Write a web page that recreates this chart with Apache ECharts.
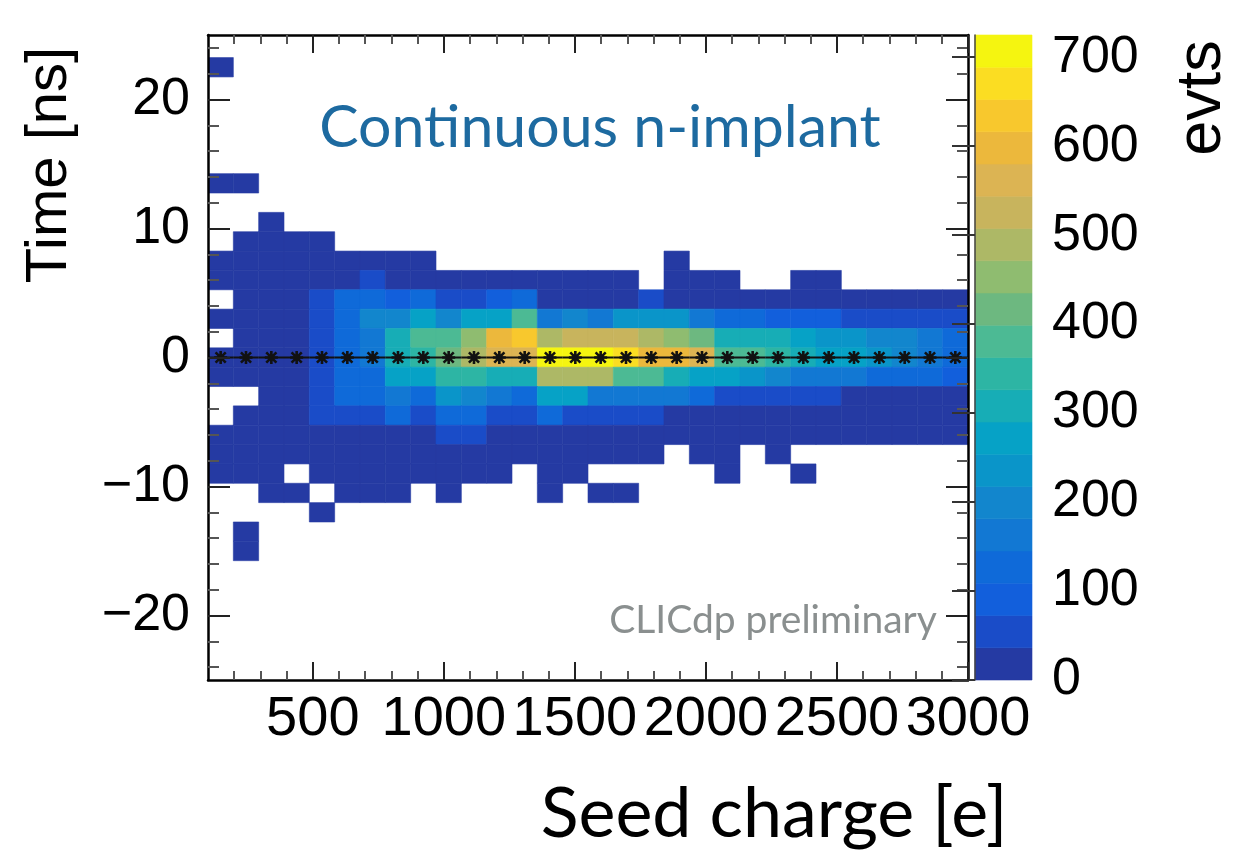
<!DOCTYPE html>
<html>
<head>
<meta charset="utf-8">
<script src="https://cdn.jsdelivr.net/npm/echarts@6/dist/echarts.min.js"></script>
<style>
html,body{margin:0;padding:0;background:#fff;}
#chart{width:1234px;height:850px;}
</style>
</head>
<body>
<div id="chart"></div>
<script>
// ---- binning ----
const chargeMin = 100, chargeMax = 3000, nChargeBins = 30;
const timeBinWidth = 1.5;
const timeCenters = [22.5, 13.5, 10.5, 9, 7.5, 6, 4.5, 3, 1.5, 0, -1.5, -3, -4.5, -6, -7.5, -9, -10.5, -12, -13.5, -15];

// ---- counts (one row per time bin, 30 seed-charge bins each) ----
const counts = [
  [3,0,0,0,0,0,0,0,0,0,0,0,0,0,0,0,0,0,0,0,0,0,0,0,0,0,0,0,0,0],
  [2,3,0,0,0,0,0,0,0,0,0,0,0,0,0,0,0,0,0,0,0,0,0,0,0,0,0,0,0,0],
  [0,0,2,0,0,0,0,0,0,0,0,0,0,0,0,0,0,0,0,0,0,0,0,0,0,0,0,0,0,0],
  [0,3,5,4,3,0,0,0,0,0,0,0,0,0,0,0,0,0,0,0,0,0,0,0,0,0,0,0,0,0],
  [2,6,10,8,9,7,8,5,4,0,0,0,0,0,0,0,0,0,3,0,0,0,0,0,0,0,0,0,0,0],
  [4,12,18,20,25,30,50,28,25,22,20,18,15,14,12,10,8,0,6,5,4,0,0,3,3,0,0,0,0,0],
  [0,10,18,25,65,125,130,95,125,60,58,92,120,30,30,28,25,45,20,18,18,16,15,14,13,12,11,10,10,9],
  [3,15,20,28,70,135,200,205,270,195,275,280,380,165,200,170,235,240,238,165,130,128,100,95,90,65,60,58,55,50],
  [0,12,20,30,70,130,180,305,380,385,450,600,630,490,525,530,520,490,455,415,310,310,300,270,240,235,200,195,165,130],
  [5,15,25,32,65,130,165,310,345,415,490,555,565,700,722,712,685,600,590,545,385,380,345,310,275,270,240,200,170,135],
  [4,12,20,30,60,125,140,270,275,345,340,310,305,490,495,485,380,375,310,275,270,240,200,170,165,160,135,130,125,95],
  [0,0,15,25,55,125,135,165,125,240,205,170,130,260,265,175,170,160,155,125,60,58,55,52,50,34,32,30,28,25],
  [0,10,15,22,50,55,60,120,65,110,112,60,58,118,60,55,50,45,30,30,28,25,25,22,20,18,15,14,12,10],
  [3,10,15,18,20,25,28,30,32,50,48,30,28,28,26,25,24,22,20,18,16,15,14,12,10,9,8,7,6,5],
  [2,5,8,10,12,14,15,16,15,14,12,12,10,9,8,7,6,5,0,3,3,0,2,0,0,0,0,0,0,0],
  [1,2,3,0,4,5,5,6,5,4,4,3,0,3,2,0,0,0,0,0,1,0,0,1,0,0,0,0,0,0],
  [0,0,1,2,0,2,2,1,0,1,0,0,0,1,0,1,1,0,0,0,0,0,0,0,0,0,0,0,0,0],
  [0,0,0,0,1,0,0,0,0,0,0,0,0,0,0,0,0,0,0,0,0,0,0,0,0,0,0,0,0,0],
  [0,1,0,0,0,0,0,0,0,0,0,0,0,0,0,0,0,0,0,0,0,0,0,0,0,0,0,0,0,0],
  [0,1,0,0,0,0,0,0,0,0,0,0,0,0,0,0,0,0,0,0,0,0,0,0,0,0,0,0,0,0]
];

// ---- profile (mean time per seed-charge bin) ----
const meanTime = [0.0,0.0,0.0,0.0,0.0,0.0,0.0,0.0,0.0,0.0,0.0,0.0,0.0,0.0,0.0,0.0,0.0,0.0,0.0,0.0,0.0,0.0,0.0,0.0,0.0,0.0,0.0,0.0,0.0,0.0];

// ---- colour scale ----
const zMax = 725;
const palette = ['#253aa3','#1a4cc8','#125fdc','#0f6ad9','#1278d3','#1286cd','#0a95c9','#06a2c6','#17adb6','#2db5a4',
                 '#4cba94','#6db880','#8fbc70','#adb866','#c8b45d','#dcb453','#ecb83c','#f8c82d','#fbdd22','#f5f510'];

// ---- tick labels ----
const xMajorTicks = [500,1000,1500,2000,2500,3000];
const yMajorTicks = [-20,-10,0,10,20];
const zTicks = [0,100,200,300,400,500,600,700];

// derived
const binW = (chargeMax - chargeMin) / nChargeBins;
const cells = [];
timeCenters.forEach((tc, r) => {
  counts[r].forEach((v, i) => {
    if (v > 0) {
      cells.push([chargeMin + i*binW, chargeMin + (i+1)*binW, tc - timeBinWidth/2, tc + timeBinWidth/2, v]);
    }
  });
});
const profile = meanTime.map((m, i) => [chargeMin + i*binW, chargeMin + (i+1)*binW, chargeMin + (i+0.5)*binW, m]);
const xMinorTicks = [];
for (let v = 200; v < 3000; v += 100) if (v % 500 !== 0) xMinorTicks.push(v);
const yMinorTicks = [];
for (let v = -24; v <= 24; v += 2) if (v % 10 !== 0) yMinorTicks.push(v);
const levels = palette.map((c, i) => [i*zMax/palette.length, (i+1)*zMax/palette.length, i]);

const numFont = 'Liberation Sans, Arial, Helvetica, sans-serif';
const avFont = 'Lato, "Noto Sans", sans-serif';
const minus = v => String(v).replace('-', '\u2212');

function xAx(pos, major, labels) {
  return {
    type:'value', gridIndex:0, position:pos, min:chargeMin, max:chargeMax, z:10,
    axisLine:{show:major, onZero:false, lineStyle:{color:'#000', width:2.5}},
    axisTick:{show:true, inside:true, length: major?18:9, customValues: major?xMajorTicks:xMinorTicks,
              lineStyle:{color: major?'#222':'#555', width:2}},
    axisLabel:{show:labels, customValues:xMajorTicks, fontFamily:numFont, fontSize:56, color:'#000', margin:12,
               showMaxLabel:true, showMinLabel:true, hideOverlap:false, formatter:v => String(v)},
    splitLine:{show:false}
  };
}
function yAx(pos, major, labels) {
  return {
    type:'value', gridIndex:0, position:pos, min:-25, max:25, z:10,
    axisLine:{show:major, onZero:false, lineStyle:{color:'#000', width:2.5}},
    axisTick:{show:true, inside:true, length: major?22:11, customValues: major?yMajorTicks:yMinorTicks,
              lineStyle:{color: major?'#222':'#555', width:2}},
    axisLabel:{show:labels, customValues:yMajorTicks, fontFamily:numFont, fontSize:52, color:'#000', margin:18, formatter:minus},
    splitLine:{show:false}
  };
}

const chart = echarts.init(document.getElementById('chart'), null, {renderer:'canvas'});
chart.setOption({
  animation:false,
  backgroundColor:'#fff',
  grid:[
    {left:208, top:35, width:760, height:645, containLabel:false},
    {left:975, top:35, width:57, height:645, containLabel:false}
  ],
  xAxis:[
    xAx('bottom', true, true), xAx('bottom', false, false), xAx('top', true, false), xAx('top', false, false),
    {type:'value', gridIndex:1, min:0, max:1, show:false}
  ],
  yAxis:[
    yAx('left', true, true), yAx('left', false, false), yAx('right', true, false), yAx('right', false, false),
    {type:'value', gridIndex:1, position:'right', min:0, max:zMax, z:10,
     axisLine:{show:true, lineStyle:{color:'#444', width:1.5}},
     axisTick:{show:true, inside:true, length:23, customValues:zTicks, lineStyle:{color:'#333', width:2}},
     axisLabel:{show:true, customValues:zTicks, fontFamily:numFont, fontSize:52, color:'#000', margin:20},
     splitLine:{show:false}}
  ],
  series:[
    {
      type:'custom', xAxisIndex:0, yAxisIndex:0, z:1, clip:true,
      encode:{x:[0,1], y:[2,3]},
      data:cells,
      renderItem:(params, api) => {
        const p1 = api.coord([api.value(0), api.value(3)]);
        const p2 = api.coord([api.value(1), api.value(2)]);
        const v = api.value(4);
        const lvl = Math.min(palette.length-1, Math.floor(v / zMax * palette.length));
        return {type:'rect', shape:{x:p1[0], y:p1[1], width:p2[0]-p1[0], height:p2[1]-p1[1]},
                style:{fill:palette[lvl], stroke:palette[lvl], lineWidth:0.6}};
      }
    },
    {
      type:'custom', xAxisIndex:0, yAxisIndex:0, z:3, clip:true,
      encode:{x:[0,1,2], y:3},
      data:profile,
      renderItem:(params, api) => {
        const a = api.coord([api.value(0), api.value(3)]);
        const b = api.coord([api.value(1), api.value(3)]);
        const c = api.coord([api.value(2), api.value(3)]);
        const s = 13;
        return {type:'group', children:[
          {type:'line', shape:{x1:a[0], y1:a[1], x2:b[0], y2:b[1]}, style:{stroke:'#111', lineWidth:2}},
          {type:'path', shape:{pathData:'M4 0L6 0L6 10L4 10Z M0 4L10 4L10 6L0 6Z M1.8 0.4L9.6 8.2L8.2 9.6L0.4 1.8Z M8.2 0.4L9.6 1.8L1.8 9.6L0.4 8.2Z',
                  x:c[0]-s/2, y:c[1]-s/2, width:s, height:s}, style:{fill:'#111'}}
        ]};
      }
    },
    {
      type:'custom', xAxisIndex:4, yAxisIndex:4, z:1,
      encode:{y:[0,1]},
      data:levels,
      renderItem:(params, api) => {
        const p1 = api.coord([0, api.value(1)]);
        const p2 = api.coord([1, api.value(0)]);
        const col = palette[api.value(2)];
        return {type:'rect', shape:{x:p1[0], y:p1[1], width:p2[0]-p1[0], height:p2[1]-p1[1]},
                style:{fill:col, stroke:col, lineWidth:0.6}};
      }
    }
  ],
  graphic:[
    {type:'text', x:600, y:128, z:20, style:{text:'Continuous n-implant', font:'59px '+avFont, fill:'#1d6aa0', align:'center', verticalAlign:'middle'}},
    {type:'text', x:773, y:620, z:20, style:{text:'CLICdp preliminary', font:'39px '+avFont, fill:'#8a8f8f', align:'center', verticalAlign:'middle'}},
    {type:'text', x:774, y:814, z:20, style:{text:'Seed charge [e]', font:'70px '+avFont, fill:'#000', align:'center', verticalAlign:'middle'}},
    {type:'text', x:50, y:165, rotation:Math.PI/2, z:20, style:{text:'Time [ns]', font:'58px '+numFont, fill:'#000', align:'center', verticalAlign:'middle'}},
    {type:'text', x:1203, y:98, rotation:Math.PI/2, z:20, style:{text:'evts', font:'63px '+numFont, fill:'#000', align:'center', verticalAlign:'middle'}}
  ]
});
</script>
</body>
</html>
